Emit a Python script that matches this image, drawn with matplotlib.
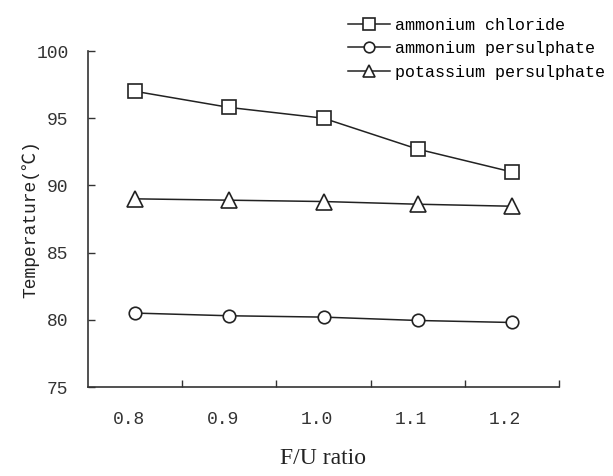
import numpy as np
import matplotlib.pyplot as plt

# F/U ratio categories and temperatures (deg C)
ratios = ['0.8', '0.9', '1.0', '1.1', '1.2']
ammonium_chloride = [97.0, 95.8, 95.0, 92.7, 91.0]
ammonium_persulphate = [80.5, 80.3, 80.2, 79.95, 79.8]
potassium_persulphate = [89.0, 88.9, 88.8, 88.6, 88.45]

mono = ['Liberation Mono', 'Noto Sans CJK SC']

fig = plt.figure(figsize=(6.13, 4.76), dpi=100)
ax = fig.add_axes([88/613, 1 - 387/476, 471/613, 336/476])

x = np.arange(len(ratios))
kw = dict(color='#222222', lw=1.1, mfc='white', mec='#222222', mew=1.2)
ax.plot(x, ammonium_chloride, marker='s', ms=10, label='ammonium chloride', **kw)
ax.plot(x, ammonium_persulphate, marker='o', ms=9, label='ammonium persulphate', **kw)
ax.plot(x, potassium_persulphate, marker='^', ms=11, label='potassium persulphate', **kw)

ax.set_xlim(-0.5, len(ratios) - 0.5)
ax.set_ylim(75, 100)
ax.set_yticks([75, 80, 85, 90, 95, 100])
ax.set_xticks(x + 0.5)
ax.set_xticklabels([])
ax.set_xticks(x - 0.07, minor=True)
ax.set_xticklabels(ratios, minor=True)
ax.tick_params(axis='x', which='minor', length=0, pad=17)
ax.tick_params(which='major', direction='in', length=5, width=1, color='#333333')
for lab in ax.get_yticklabels() + ax.get_xticklabels(minor=True):
    lab.set_family(mono)
    lab.set_fontsize(13)
    lab.set_color('#333333')
ax.tick_params(axis='y', pad=14)

for s in ['top', 'right']:
    ax.spines[s].set_visible(False)
for s in ['left', 'bottom']:
    ax.spines[s].set_linewidth(1.2)
    ax.spines[s].set_color('#333333')

ax.set_ylabel('Temperature(℃)', family=mono, fontsize=13, labelpad=-2, color='#222222')
ax.set_xlabel('F/U ratio', family='Liberation Serif', fontsize=17, labelpad=15, color='#222222')

fig.legend(loc='upper left', bbox_to_anchor=(348/613, 1 - 18/476), frameon=False,
           prop={'family': mono, 'size': 12}, handlelength=2.5, handletextpad=0.3,
           labelspacing=0.5, borderpad=0, borderaxespad=0, markerscale=0.85)

fig.savefig('out.png', dpi=100)
